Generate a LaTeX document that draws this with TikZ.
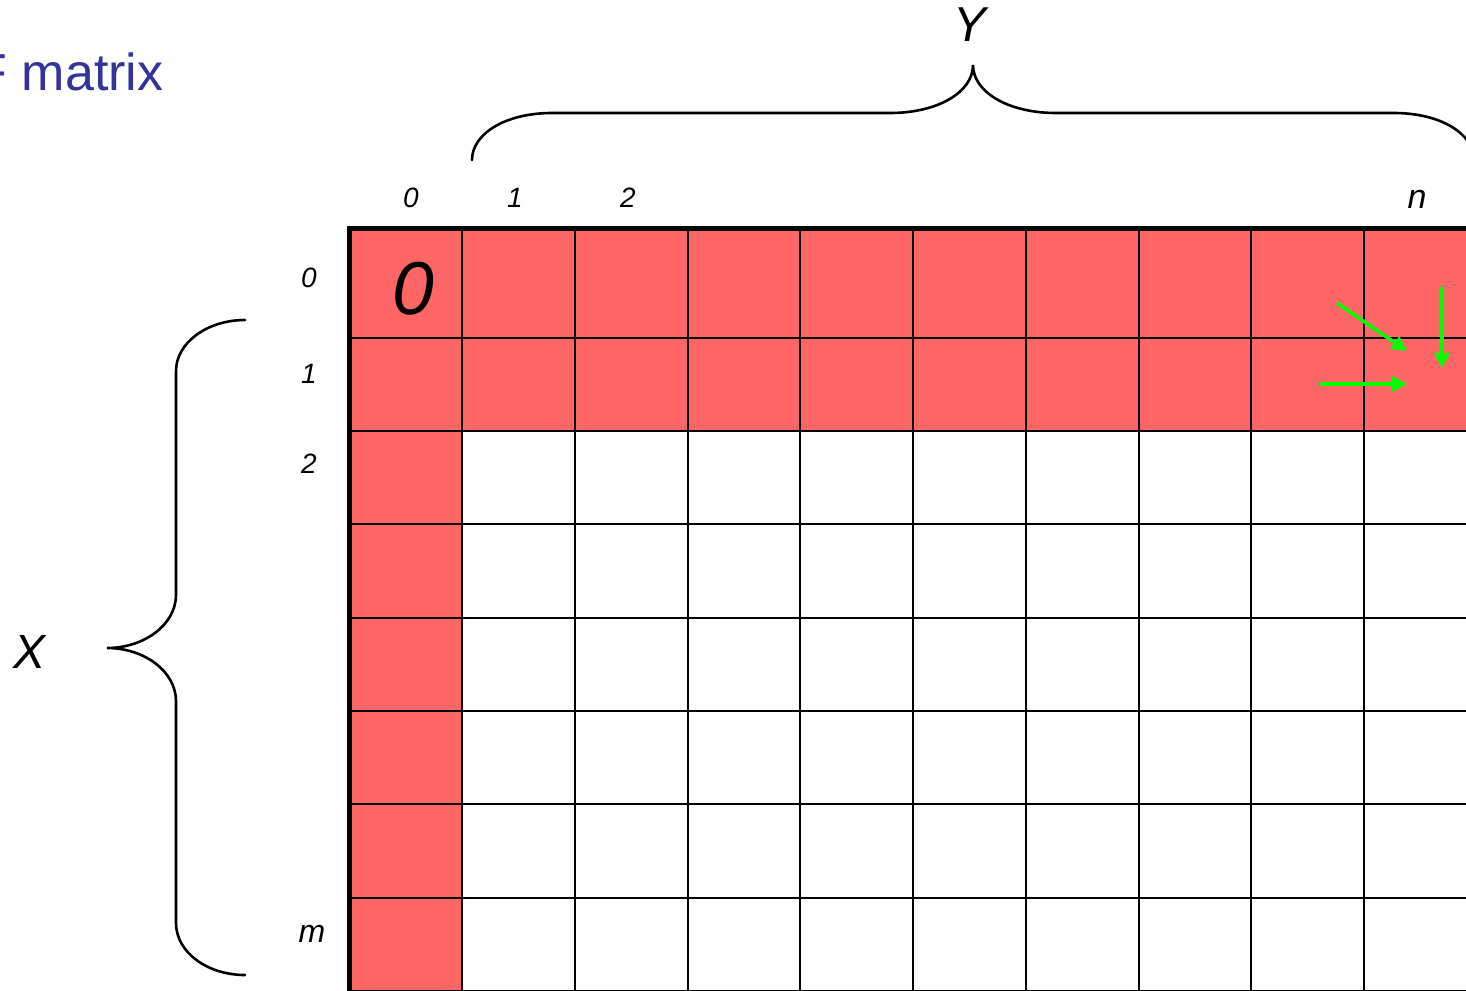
\documentclass[tikz,border=0pt]{standalone}
\usepackage{fontspec}
\setmainfont{Liberation Sans}
\usetikzlibrary{arrows.meta}
\definecolor{cellred}{RGB}{255,102,102}
\definecolor{titleblue}{RGB}{51,51,153}
\definecolor{arrowgreen}{RGB}{0,255,0}
\tikzset{
  gridline/.style={line width=2.3pt, black},
  borderline/.style={line width=5pt, black},
  bracestyle/.style={line width=2.6pt, black, line cap=round},
  greenarrow/.style={line width=3.5pt, arrowgreen, -{Triangle[length=15pt,width=15pt]}},
  lbl/.style={inner sep=0pt, anchor=base, font=\itshape\fontsize{28}{32}\selectfont},
  bigl/.style={inner sep=0pt, anchor=base, font=\itshape\fontsize{49}{56}\selectfont},
}
\begin{document}
\begin{tikzpicture}[x=1pt,y=-1pt]
\useasboundingbox (0,0) rectangle (1466,990);
\clip (0,0) rectangle (1466,990);
% title
\node[inner sep=0pt, anchor=base west, text=titleblue, font=\fontsize{52}{60}\selectfont] (title) at (-24.6,90) {F matrix};
% fills
\fill[cellred] (350,230) rectangle (1490,431);
\fill[cellred] (350,230) rectangle (462,1000);
% grid lines
\foreach \y in {338,431,524,618,711,804,898,991}
  \draw[gridline] (350,\y) -- (1490,\y);
\foreach \x in {462,575,688,800,913,1026,1139,1251,1364,1477}
  \draw[gridline] (\x,230) -- (\x,1000);
% borders
\draw[borderline] (349,1000) -- (349,228.5) -- (1490,228.5);
% column labels
\node[lbl] (c0) at (411,207) {0};
\node[lbl] (c1) at (515,207) {1};
\node[lbl] (c2) at (628,207) {2};
\node[lbl, font=\itshape\fontsize{34}{40}\selectfont] (cn) at (1417,208) {n};
% row labels
\node[lbl] (r0) at (309,287) {0};
\node[lbl] (r1) at (309,383) {1};
\node[lbl] (r2) at (309,473) {2};
\node[lbl, font=\itshape\fontsize{32}{38}\selectfont] (rm) at (312,942) {m};
% big zero
\node[inner sep=0pt, anchor=base, font=\itshape\fontsize{75}{85}\selectfont] (zero) at (413,314) {0};
% axis letters
\node[bigl] (Ylab) at (970,42) {Y};
\node[bigl, font=\itshape\fontsize{48}{56}\selectfont] (Xlab) at (30,668) {X};
% Y brace
\draw[bracestyle] (472,160) .. controls (472,134) and (505,113) .. (552,113)
  -- (890,113) .. controls (938,113) and (973,92) .. (973,65)
  .. controls (973,92) and (1008,113) .. (1056,113)
  -- (1394,113) .. controls (1441,113) and (1474,134) .. (1474,160);
% X brace
\draw[bracestyle] (245,320) .. controls (207,320) and (176,343) .. (176,371)
  -- (176,595) .. controls (176,624) and (145,648) .. (107,648)
  .. controls (145,648) and (176,672) .. (176,701)
  -- (176,923) .. controls (176,952) and (207,975) .. (245,975);
% green arrows
\coordinate (a1s) at (1337,303);
\coordinate (a1e) at (1407,351);
\coordinate (a2s) at (1320,384);
\coordinate (a2e) at (1407,384);
\coordinate (a3s) at (1442,287);
\coordinate (a3e) at (1442,368);
\draw[greenarrow] (a1s) -- (a1e);
\draw[greenarrow] (a2s) -- (a2e);
\draw[greenarrow] (a3s) -- (a3e);
\end{tikzpicture}
\end{document}
